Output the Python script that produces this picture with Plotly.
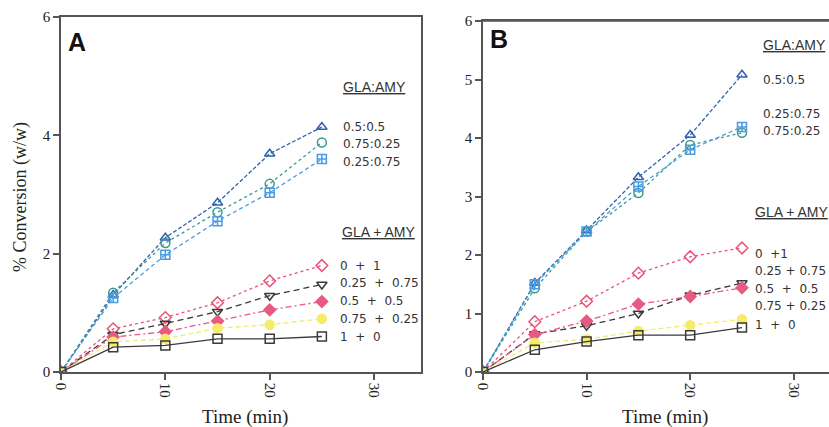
import plotly.graph_objects as go

time = [0, 5, 10, 15, 20, 25]

# Panel A
a_05_05 = [0, 1.30, 2.27, 2.86, 3.69, 4.14]
a_075_025 = [0, 1.34, 2.18, 2.70, 3.18, 3.88]
a_025_075 = [0, 1.25, 1.98, 2.55, 3.03, 3.60]
a_0p1 = [0, 0.73, 0.92, 1.17, 1.54, 1.80]
a_025p075 = [0, 0.63, 0.82, 1.02, 1.29, 1.48]
a_05p05 = [0, 0.59, 0.68, 0.86, 1.05, 1.19]
a_075p025 = [0, 0.51, 0.56, 0.74, 0.80, 0.90]
a_1p0 = [0, 0.42, 0.45, 0.56, 0.56, 0.60]

# Panel B
b_05_05 = [0, 1.52, 2.42, 3.33, 4.05, 5.08]
b_025_075 = [0, 1.50, 2.40, 3.17, 3.80, 4.19]
b_075_025 = [0, 1.43, 2.40, 3.06, 3.88, 4.09]
b_0p1 = [0, 0.86, 1.21, 1.69, 1.97, 2.12]
b_025p075 = [0, 0.65, 0.79, 1.00, 1.31, 1.52]
b_05p05 = [0, 0.64, 0.87, 1.16, 1.29, 1.44]
b_075p025 = [0, 0.50, 0.56, 0.70, 0.80, 0.90]
b_1p0 = [0, 0.38, 0.52, 0.63, 0.63, 0.76]

styles = [
    ("triangle-up-open", "#2f62b0", "4px,2px"),
    ("circle-open", "#3a9a8c", "dot"),
    ("square-cross-open", "#4a9be0", "4px,3px"),
    ("diamond-open", "#e8547a", "dot"),
    ("triangle-down-open", "#3a3a3a", "6px,4px"),
    ("diamond", "#e85a82", "6px,3px,2px,3px"),
    ("circle", "#f4ec6a", "5px,3px"),
    ("square-open", "#3a3a3a", "solid"),
]

series_a = [a_05_05, a_075_025, a_025_075, a_0p1, a_025p075, a_05p05, a_075p025, a_1p0]
series_b = [b_05_05, b_075_025, b_025_075, b_0p1, b_025p075, b_05p05, b_075p025, b_1p0]

fig = go.Figure()

for (sym, col, dash), ya in zip(styles, series_a):
    fig.add_trace(go.Scatter(x=time, y=ya, mode="lines+markers", xaxis="x", yaxis="y",
                             line=dict(color=col, width=1.3, dash=dash),
                             marker=dict(symbol=sym, size=9, color=col,
                                         line=dict(color=col, width=1.5)),
                             showlegend=False))
for (sym, col, dash), yb in zip(styles, series_b):
    fig.add_trace(go.Scatter(x=time, y=yb, mode="lines+markers", xaxis="x2", yaxis="y2",
                             line=dict(color=col, width=1.3, dash=dash),
                             marker=dict(symbol=sym, size=9, color=col,
                                         line=dict(color=col, width=1.5)),
                             showlegend=False))

W, H = 829, 427
ML, MT, MB = 61, 17, 55
PW = W - ML
PH = H - MT - MB

def px(xp):
    return (xp - ML) / PW

def py(yp):
    return (H - MB - yp) / PH

axis_common = dict(showline=True, linecolor="#555555", linewidth=1.5, ticks="outside",
                   ticklen=6, tickwidth=1.5, tickcolor="#555555", showgrid=False, zeroline=False,
                   tickfont=dict(family="Liberation Serif", size=15, color="#222222"))

fig.update_layout(
    width=W, height=H,
    margin=dict(l=ML, r=0, t=MT, b=MB),
    paper_bgcolor="white", plot_bgcolor="white",
    xaxis=dict(domain=[0, px(421)], range=[0, 34.5], tickvals=[0, 10, 20, 30], tickangle=90,
               mirror=True, anchor="y", **axis_common),
    yaxis=dict(domain=[0, 1], range=[0, 6], tickvals=[0, 2, 4, 6], mirror=True, anchor="x",
               **axis_common),
    xaxis2=dict(domain=[px(483), 1], range=[0, 33.4], tickvals=[0, 10, 20, 30], tickangle=90,
                mirror=True, anchor="y2", **axis_common),
    yaxis2=dict(domain=[0, py(21)], range=[0, 6], tickvals=[0, 1, 2, 3, 4, 5, 6], anchor="x2",
                **axis_common),
)

ann = []

def label(text, xp, yp, size=12, family="DejaVu Sans", color="#333333"):
    ann.append(dict(text=text, x=px(xp), y=py(yp), xref="paper", yref="paper",
                    xanchor="left", yanchor="middle", showarrow=False,
                    font=dict(family=family, size=size, color=color)))

sp = "\u00a0\u00a0"
s1 = "\u00a0"
HF = "Liberation Sans"
# Panel A legend labels
label("<u>GLA:AMY</u>", 341, 87, size=14, family=HF)
label("0.5:0.5", 341, 127)
label("0.75:0.25", 341, 144)
label("0.25:0.75", 341, 162)
label("<u>GLA + AMY</u>", 340, 232, size=14, family=HF)
label("0" + sp + "+" + sp + "1", 338, 266)
label("0.25" + sp + "+" + sp + "0.75", 338, 283)
label("0.5" + sp + "+" + sp + "0.5", 338, 301)
label("0.75" + sp + "+" + sp + "0.25", 338, 319)
label("1" + sp + "+" + sp + "0", 338, 337)

# Panel B legend labels
label("<u>GLA:AMY</u>", 761, 45, size=14, family=HF)
label("0.5:0.5", 761, 80)
label("0.25:0.75", 761, 114)
label("0.75:0.25", 761, 131)
label("<u>GLA + AMY</u>", 753, 212, size=14, family=HF)
label("0" + sp + "+1", 753, 254)
label("0.25" + s1 + "+" + s1 + "0.75", 753, 271)
label("0.5" + sp + "+" + sp + "0.5", 753, 289)
label("0.75" + s1 + "+" + s1 + "0.25", 753, 306)
label("1" + sp + "+" + sp + "0", 753, 325)

# Panel letters
label("<b>A</b>", 66, 42, size=25, family="Liberation Sans", color="#111111")
label("<b>B</b>", 488, 39, size=25, family="Liberation Sans", color="#111111")

# Axis titles
ann.append(dict(text="Time (min)", x=px(245), y=py(417), xref="paper", yref="paper",
                xanchor="center", yanchor="middle", showarrow=False,
                font=dict(family="Liberation Serif", size=19, color="#222222")))
ann.append(dict(text="Time (min)", x=px(665), y=py(417), xref="paper", yref="paper",
                xanchor="center", yanchor="middle", showarrow=False,
                font=dict(family="Liberation Serif", size=19, color="#222222")))
ann.append(dict(text="% Conversion (w/w)", x=px(20), y=py(197), xref="paper", yref="paper",
                xanchor="center", yanchor="middle", showarrow=False, textangle=-90,
                font=dict(family="Liberation Serif", size=18, color="#222222")))

# top border for panel B
fig.add_shape(type="line", xref="paper", yref="paper", x0=px(483), x1=1, y0=py(21), y1=py(21),
              line=dict(color="#555555", width=1.5))

fig.update_layout(annotations=ann)

fig.write_html("out.html")
